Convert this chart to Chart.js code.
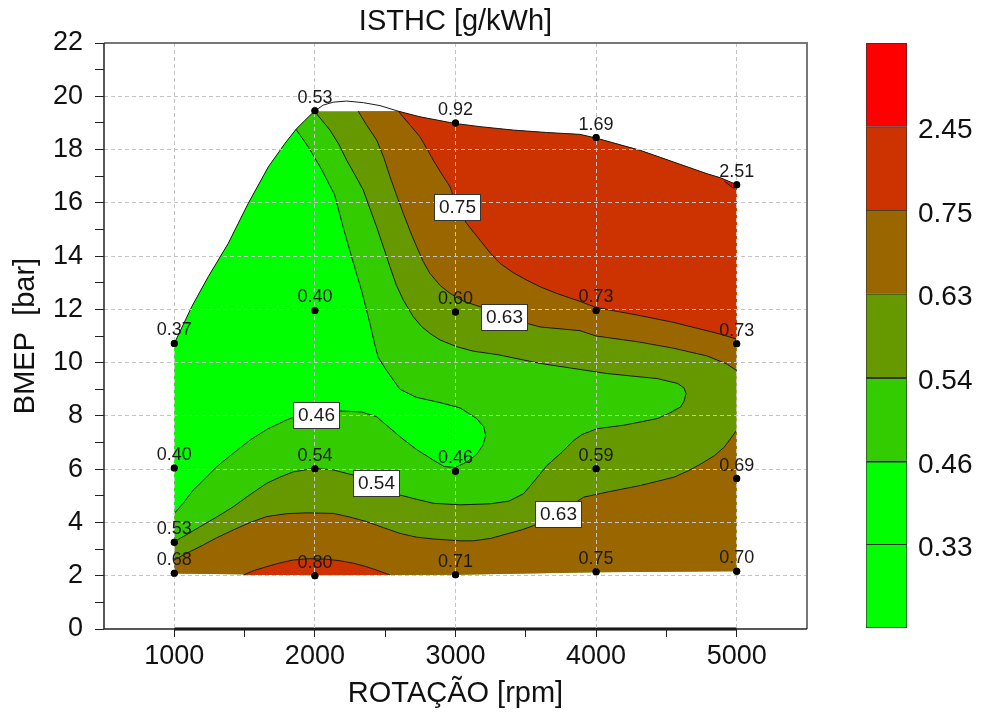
<!DOCTYPE html>
<html>
<head>
<meta charset="utf-8">
<title>ISTHC [g/kWh]</title>
<script src="https://cdn.jsdelivr.net/npm/chart.js@4.4.1/dist/chart.umd.min.js"></script>
<style>
  body { margin: 0; background: #fff; }
  #wrap { position: relative; width: 992px; height: 715px; }
  #map { position: absolute; left: 0; top: 0; }
  #bar { position: absolute; left: 856px; top: 0; }
</style>
</head>
<body>
<div id="wrap">
  <canvas id="map" width="992" height="715"></canvas>
  <canvas id="bar" width="136" height="715"></canvas>
</div>
<script>
// ------------------ Measured points (rpm, bmep, ISTHC) ------------------
const rpmPoints   = [1000, 1000, 1000, 1000, 2000, 2000, 2000, 2000, 3000, 3000, 3000, 3000, 4000, 4000, 4000, 4000, 5000, 5000, 5000, 5000];
const bmepPoints  = [10.72, 6.04, 3.26, 2.09, 19.46, 11.96, 6.02, 2.0, 19.0, 11.9, 5.92, 2.04, 18.45, 11.96, 6.02, 2.15, 16.68, 10.71, 5.65, 2.17];
const isthcPoints = [0.37, 0.40, 0.53, 0.68, 0.53, 0.40, 0.54, 0.80, 0.92, 0.60, 0.46, 0.71, 1.69, 0.73, 0.59, 0.75, 2.51, 0.73, 0.69, 0.70];

// ------------------ Map outline [rpm, bmep] ------------------
const topEdge = [[1000,10.72],[1124,12.1],[1242,13.23],[1384,14.48],[1526,15.98],[1669,17.35],[1787,18.23],[1866,18.76],[1930,19.1],
  [1996,19.44],[2060,19.67],[2131,19.78],[2226,19.82],[2344,19.76],[2463,19.65],[2593,19.44],[2747,19.23],[2996,18.98],
  [3174,18.86],[3411,18.73],[3648,18.64],[3885,18.57],[4000,18.43],[4314,17.97],[4552,17.53],[4790,17.09],[4885,16.94],[5000,16.68]];
const bottomEdge = [[1000,2.08],[2000,2.02],[3000,2.04],[4000,2.13],[5000,2.17]];
const fillCap = 19.44;

// ------------------ Contour lines [rpm, bmep] ------------------
const contour046 = [[1866,18.76],[1953,18.1],[2048,17.25],[2140,16.3],[2200,15.1],[2265,13.9],[2335,12.65],[2390,11.5],[2425,10.7],
  [2450,10.2],[2511,9.7],[2605,9.0],[2720,8.7],[2890,8.5],[3032,8.3],[3151,7.9],[3200,7.6],[3215,7.27],[3195,6.9],[3150,6.55],
  [3080,6.27],[2996,6.06],[2920,6.1],[2842,6.34],[2720,6.75],[2605,7.22],[2439,7.97],[2330,8.15],[2250,8.17],[2100,8.2],
  [1989,8.16],[1900,8.05],[1799,7.85],[1660,7.5],[1538,7.09],[1420,6.6],[1301,6.09],[1210,5.6],[1135,5.22],[1060,4.7],[1000,4.34]];
const contour054 = [[1996,19.44],[2050,19.1],[2107,18.73],[2170,18.2],[2226,17.6],[2290,17.0],[2344,16.48],[2390,15.8],[2439,15.1],
  [2490,14.3],[2534,13.6],[2580,12.9],[2629,12.35],[2700,11.72],[2760,11.35],[2818,11.1],[2890,10.85],[3008,10.6],[3127,10.43],
  [3300,10.3],[3603,9.97],[4079,9.59],[4436,9.4],[4579,9.22],[4625,9.05],[4640,8.84],[4625,8.55],[4602,8.34],[4520,8.1],
  [4436,7.9],[4197,7.65],[4007,7.52],[3900,7.3],[3841,7.08],[3750,6.6],[3651,6.14],[3560,5.55],[3484,5.08],[3380,4.8],
  [3247,4.7],[3032,4.66],[2842,4.72],[2700,4.9],[2605,5.03],[2450,5.35],[2273,5.78],[2131,5.97],[1996,6.03],[1846,5.9],
  [1750,5.7],[1657,5.47],[1540,5.05],[1420,4.59],[1300,4.2],[1183,3.84],[1090,3.55],[1000,3.28]];
const contour063Upper = [[2308,19.44],[2370,18.9],[2439,18.36],[2490,17.7],[2534,16.98],[2580,16.3],[2629,15.6],[2680,14.9],
  [2724,14.35],[2770,13.8],[2818,13.35],[2890,12.9],[2961,12.6],[3060,12.3],[3174,12.1],[3345,11.75],[3511,11.47],[3601,11.34],
  [3885,11.2],[4000,11.0],[4300,10.78],[4552,10.54],[4790,10.25],[4933,9.94],[5000,9.7]];
const contour063Lower = [[1000,2.59],[1090,2.85],[1183,3.09],[1300,3.42],[1420,3.72],[1540,4.0],[1657,4.22],[1800,4.33],
  [1941,4.36],[2131,4.34],[2250,4.2],[2368,4.03],[2490,3.8],[2605,3.59],[2720,3.45],[2842,3.38],[3032,3.31],[3127,3.31],
  [3250,3.4],[3365,3.57],[3470,3.72],[3555,3.88],[3728,4.33],[3912,4.95],[4079,5.14],[4317,5.39],[4554,5.7],[4660,5.95],
  [4746,6.2],[4840,6.5],[4912,6.83],[5000,7.46]];
const contour075Upper = [[2593,19.44],[2680,18.9],[2747,18.48],[2800,18.0],[2842,17.6],[2900,17.1],[2961,16.6],[3010,15.85],
  [3079,15.23],[3174,14.6],[3250,14.1],[3316,13.73],[3410,13.38],[3506,13.1],[3601,12.85],[3719,12.6],[3885,12.3],[4000,12.07],
  [4300,11.78],[4552,11.51],[4885,11.07],[5000,10.88]];
const contour075Lower = [[1491,2.03],[1570,2.2],[1657,2.34],[1750,2.48],[1846,2.59],[1960,2.64],[2084,2.62],[2180,2.56],
  [2273,2.47],[2360,2.35],[2439,2.21],[2534,2.03]];
const contour245 = [[4910,16.82],[4975,16.55],[5000,16.6],[5000,16.68]];

// ------------------ Contour labels ------------------
const boxText = ['0.75', '0.63', '0.46', '0.54', '0.63'];
const boxRpm  = [3010, 3345, 2010, 2432, 3728];
const boxBmep = [15.84, 11.71, 8.04, 5.47, 4.32];

// ------------------ Colour scale ------------------
const levelLabels = ['0.33', '0.46', '0.54', '0.63', '0.75', '2.45'];
const bandColors  = ['#00ff00', '#00ff00', '#33cc00', '#669900', '#996600', '#cc3300', '#ff0000'];

const FONT = '"Liberation Sans", Arial, sans-serif';
Chart.defaults.font.family = FONT;
Chart.defaults.color = '#111';

const toXY = arr => arr.map(p => ({ x: p[0], y: p[1] }));

function area(points, color) {
    return { data: toXY(points), fill: 'shape', backgroundColor: color, borderColor: 'rgba(0,0,0,0)',
             borderWidth: 1, pointRadius: 0, tension: 0 };
}
function line(points, width) {
    return { data: toXY(points), fill: false, borderColor: '#1a1a1a', borderWidth: width || 1,
             pointRadius: 0, tension: 0 };
}

// regions are painted one over the other
const fillTop = topEdge.map(([r, b]) => [r, Math.min(b, fillCap)]);
const bottomRev = bottomEdge.slice().reverse();
const datasets = [
    area(fillTop.concat(bottomRev), bandColors[3]),
    area(topEdge.filter(p => p[0] < 1996).concat(contour054), bandColors[2]),
    area(topEdge.filter(p => p[0] < 1866).concat(contour046), bandColors[1]),
    area(contour063Upper.concat(fillTop.filter(p => p[0] > 2308).reverse()), bandColors[4]),
    area(contour063Lower.concat(bottomRev), bandColors[4]),
    area(contour075Upper.concat(fillTop.filter(p => p[0] > 2593).reverse()), bandColors[5]),
    area(contour075Lower, bandColors[5]),
    area(contour245, bandColors[6]),
    line(topEdge),
    line(contour046),
    line(contour054),
    line(contour063Upper),
    line(contour063Lower),
    line(contour075Upper),
    line(contour075Lower),
    line(contour245),
    { data: [{ x: 1000, y: 0 }, { x: 5000, y: 0 }], borderColor: '#000', borderWidth: 3, pointRadius: 0, clip: 4 },
    { data: rpmPoints.map((r, i) => ({ x: r, y: bmepPoints[i] })), showLine: false, pointRadius: 3.5,
      pointBackgroundColor: '#000', pointBorderColor: '#000', pointBorderWidth: 0 }
];
datasets.forEach((d, i) => { d.order = -i; });
const pointsIndex = datasets.length - 1;

// ------------------ Frame, value and contour labels ------------------
const labelPlugin = {
    id: 'mapLabels',
    afterDraw(chart) {
        const { ctx, chartArea: a, scales: { x, y } } = chart;
        ctx.save();
        // plot frame: grey top/right, dark left/bottom
        ctx.lineWidth = 2;
        ctx.strokeStyle = '#777';
        ctx.beginPath();
        ctx.moveTo(a.left, a.top);
        ctx.lineTo(a.right, a.top);
        ctx.lineTo(a.right, a.bottom);
        ctx.stroke();
        ctx.strokeStyle = '#222';
        ctx.lineWidth = 1.5;
        ctx.beginPath();
        ctx.moveTo(a.left, a.top);
        ctx.lineTo(a.left, a.bottom);
        ctx.lineTo(a.right, a.bottom);
        ctx.stroke();

        // measured points again, above the grid lines
        chart.getDatasetMeta(pointsIndex).data.forEach(pt => pt.draw(ctx, a));

        ctx.font = '18px ' + FONT;
        ctx.textAlign = 'center';
        ctx.fillStyle = '#1a1a1a';
        ctx.textBaseline = 'alphabetic';
        for (let i = 0; i < rpmPoints.length; i++) {
            ctx.fillText(isthcPoints[i].toFixed(2), x.getPixelForValue(rpmPoints[i]), y.getPixelForValue(bmepPoints[i]) - 8);
        }
        ctx.font = '19px ' + FONT;
        ctx.textBaseline = 'middle';
        for (let i = 0; i < boxText.length; i++) {
            const cx = Math.round(x.getPixelForValue(boxRpm[i]));
            const cy = Math.round(y.getPixelForValue(boxBmep[i]));
            ctx.fillStyle = '#fff';
            ctx.fillRect(cx - 23, cy - 13, 46, 26);
            ctx.strokeStyle = '#333';
            ctx.lineWidth = 1;
            ctx.strokeRect(cx - 22.5, cy - 12.5, 46, 26);
            ctx.fillStyle = '#1a1a1a';
            ctx.fillText(boxText[i], cx + 0.5, cy + 1);
        }
        ctx.restore();
    }
};

const gridGray = '#c4c4c4';
const none = 'rgba(0,0,0,0)';

new Chart(document.getElementById('map'), {
    type: 'line',
    data: { datasets: datasets },
    options: {
        responsive: false,
        animation: false,
        events: [],
        layout: { padding: { left: 0, right: 185, top: 0, bottom: 0 } },
        plugins: {
            legend: { display: false },
            tooltip: { enabled: false },
            title: { display: true, text: 'ISTHC [g/kWh]', fullSize: false, color: '#111',
                     font: { size: 29, weight: 'normal' }, padding: { top: 5, bottom: 3.2 } }
        },
        scales: {
            x: {
                type: 'linear', position: 'bottom', min: 500, max: 5500,
                ticks: { stepSize: 500, autoSkip: false, maxRotation: 0, padding: 3, font: { size: 27 },
                         callback: v => (v % 1000 === 0 && v >= 1000 && v <= 5000) ? v : '' },
                grid: { z: 1, tickLength: 8,
                        color: c => (c.tick && c.tick.value % 1000 === 0 && c.tick.value >= 1000 && c.tick.value <= 5000) ? gridGray : none,
                        tickColor: c => (c.tick && c.tick.value > 500 && c.tick.value < 5500) ? '#222' : none },
                border: { display: false, dash: [4, 3] },
                title: { display: true, text: 'ROTAÇÃO [rpm]', font: { size: 29 }, padding: { top: 0, bottom: 4 } },
                afterFit: s => { s.height = 86; }
            },
            y: {
                type: 'linear', position: 'left', min: 0, max: 22,
                ticks: { stepSize: 1, autoSkip: false, padding: 12, font: { size: 27 },
                         callback: v => v % 2 === 0 ? v : '' },
                grid: { z: 1, tickLength: 9,
                        color: c => (c.tick && c.tick.value % 2 === 0 && c.tick.value > 0 && c.tick.value < 22) ? gridGray : none,
                        tickColor: '#222' },
                border: { display: false, dash: [4, 3] },
                title: { display: true, text: 'BMEP  [bar]', font: { size: 29 }, padding: { top: 9, bottom: 0 } },
                afterFit: s => { s.width = 104; }
            }
        }
    },
    plugins: [labelPlugin]
});

// ------------------ Colour bar ------------------
new Chart(document.getElementById('bar'), {
    type: 'bar',
    data: {
        labels: [''],
        datasets: bandColors.map((c, i) => ({
            data: [1], backgroundColor: c, borderColor: '#333', borderSkipped: false,
            borderWidth: { top: (i === 1 || i === 2) ? 2 : 1, bottom: i === 0 ? 1 : 0, left: 1, right: 1 },
            barPercentage: 1, categoryPercentage: 1
        }))
    },
    options: {
        responsive: false,
        animation: false,
        events: [],
        layout: { padding: { top: 43, bottom: 87, left: 10, right: 0 } },
        plugins: { legend: { display: false }, tooltip: { enabled: false } },
        scales: {
            x: { stacked: true, display: false },
            y: {
                stacked: true, position: 'right', min: 0, max: 7,
                grid: { display: false, drawTicks: false }, border: { display: false },
                ticks: { stepSize: 1, padding: 11, labelOffset: 4, font: { size: 28 }, color: '#111',
                         callback: v => levelLabels[v - 1] || '' },
                afterFit: s => { s.width = 85; }
            }
        }
    }
});
</script>
</body>
</html>
